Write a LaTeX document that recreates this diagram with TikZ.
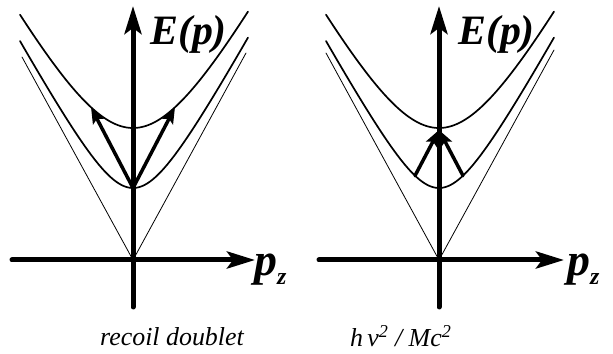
\documentclass[tikz,border=0pt]{standalone}
\usepackage{fontspec}
\setmainfont{Liberation Serif}
\usetikzlibrary{arrows.meta}
\begin{document}
\begin{tikzpicture}[x=10bp,y=10bp,>={Stealth[length=28bp,width=17bp,inset=6bp]},line join=round,line cap=round]
			\tikzset{axis/.style={line width=5bp,->},
				cone/.style={line width=0.8bp},
				level/.style={line width=1.7bp,samples=120,smooth,variable=\x},
				photon/.style={line width=3.5bp,-{Stealth[length=16bp,width=12bp,inset=3bp]}},
				biglabel/.style={font=\fontsize{42}{42}\selectfont\bfseries\itshape,inner sep=0pt},
				pzlabel/.style={font=\fontsize{46}{46}\selectfont\bfseries\itshape,inner sep=0pt},
				caption/.style={font=\fontsize{26}{26}\selectfont\itshape,inner sep=0pt}}
			\def\slope{1.83}
			\def\mlow{7.2} \def\mhigh{13.2}
			\useasboundingbox (0,0) rectangle (61.3,35.4);
			
			% --- Hình trái: hai mũi tên tách ra ---
			\begin{scope}[shift={(13.3,9.4)}]
				\draw[cone] (-11.1,20.3)--(0,0)--(11.3,20.7);
				\draw[level,domain=-11.3:11.5] plot (\x,{sqrt(\mlow*\mlow+\slope*\slope*\x*\x)});
				\draw[level,domain=-11.3:11.5] plot (\x,{sqrt(\mhigh*\mhigh+\slope*\slope*\x*\x)});
				
				\coordinate (vL) at (0,\mlow);
				\draw[photon] (vL)--(-4.2,15.27);
				\draw[photon] (vL)--(4.2,15.27);
				
				\draw[axis] (-12.1,0)--(12.2,0);
				\draw[axis] (0,-4.7)--(0,25.4);
				\node[biglabel,anchor=base west] (EL) at (1.7,21.5) {E(p)};
				\node[pzlabel,anchor=base west] (pzL) at (12.1,-1.6) {p\raisebox{-9bp}{\fontsize{24}{24}\selectfont z}};
			\end{scope}
			
			% --- Hình phải: hai mũi tên hội tụ ---
			\begin{scope}[shift={(43.9,9.4)}]
				\draw[cone] (-11.3,20.7)--(0,0)--(11.5,21.0);
				\draw[level,domain=-11.3:11.5] plot (\x,{sqrt(\mlow*\mlow+\slope*\slope*\x*\x)});
				\draw[level,domain=-11.3:11.5] plot (\x,{sqrt(\mhigh*\mhigh+\slope*\slope*\x*\x)});
				
				\coordinate (vR) at (0,13.0);
				\draw[photon] (-2.4,8.43)--(vR);
				\draw[photon] (2.4,8.43)--(vR);
				
				\draw[axis] (-12,0)--(12.5,0);
				\draw[axis] (0,-4.7)--(0,25.4);
				\node[biglabel,anchor=base west] (ER) at (1.9,21.5) {E(p)};
				\node[pzlabel,anchor=base west] (pzR) at (12.8,-1.6) {p\raisebox{-9bp}{\fontsize{24}{24}\selectfont z}};
			\end{scope}
			
			% --- Chú thích ---
			\node[caption,anchor=base west] (capL) at (10.0,0.9) {recoil doublet};
			\node[caption,anchor=base west] (capR) at (35.0,0.8) {h\,ν\textsuperscript{2} / Mc\textsuperscript{2}};
	\end{tikzpicture}
\end{document}
